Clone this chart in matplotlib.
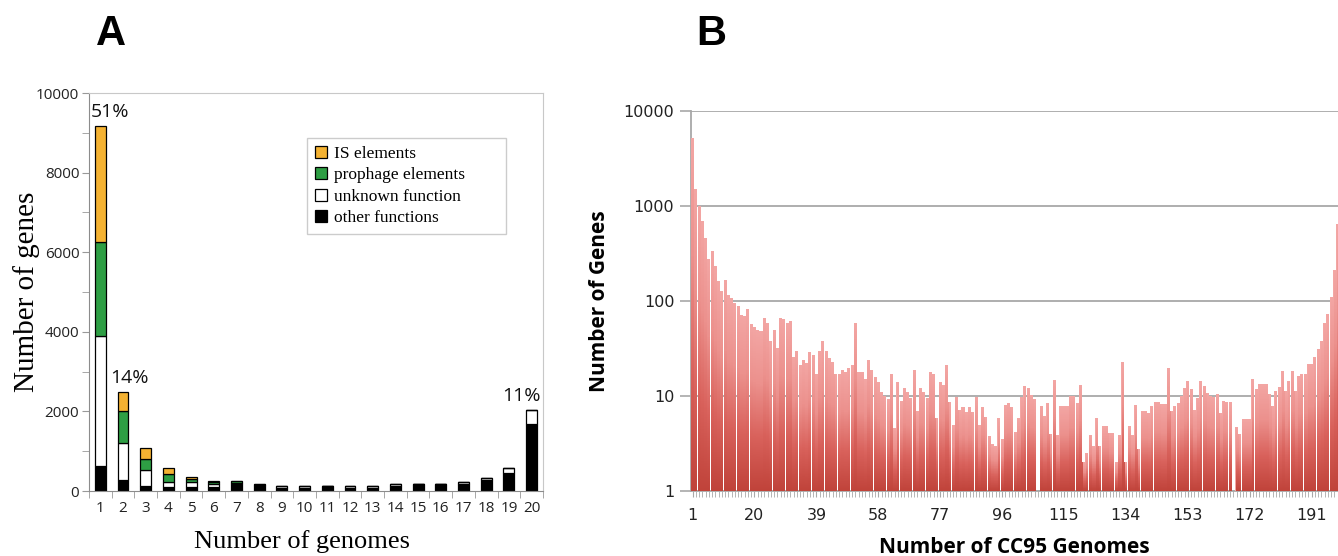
import numpy as np
import matplotlib
matplotlib.use('Agg')
import matplotlib.pyplot as plt
from matplotlib.patches import Patch
from matplotlib.path import Path
from matplotlib.colors import LinearSegmentedColormap
from matplotlib.ticker import FixedLocator, MultipleLocator, NullLocator, FuncFormatter

# ---- panel A: genes per number of genomes (stacked by function) ----
genomes_a = np.arange(1, 21)
other_functions = [640, 277, 136, 110, 105, 105, 185, 120, 80, 85, 125, 75, 85, 125, 168, 168, 180, 270, 460, 1672]
unknown_function = [3259, 922, 392, 126, 109, 70, 15, 40, 45, 45, 13, 63, 53, 51, 8, 8, 42, 61, 123, 360]
prophage_elements = [2348, 822, 277, 184, 83, 40, 50, 10, 8, 8, 0, 0, 0, 0, 0, 0, 0, 0, 0, 0]
is_elements = [2932, 478, 269, 151, 59, 41, 6, 6, 5, 0, 0, 0, 0, 0, 0, 0, 0, 0, 0, 0]
pct_labels = ['51%', '14%', '11%']

# ---- panel B: genes per number of CC95 genomes ----
gene_counts = [
    5150, 1500, 1000, 695, 464, 275, 337, 234, 163, 127,
    166, 117, 108, 96, 89, 72, 70, 82, 57, 53,
    50, 48, 67, 59, 38, 50, 32, 67, 64, 59,
    62, 26, 30, 21, 24, 22, 29, 27, 17, 30,
    38, 30, 25, 23, 17, 17, 19, 18, 19.5, 21,
    59, 18, 18, 15, 24, 19, 16, 14, 11, 10,
    9.2, 17, 4.6, 14, 8.9, 12, 11, 9.6, 19, 7,
    12, 11, 9.6, 18, 17, 5.9, 14, 13, 21, 8.7,
    5.0, 9.8, 7.1, 7.7, 6.8, 7.7, 6.8, 9.8, 5.0, 7.7,
    6.0, 3.8, 3.1, 3.0, 5.8, 3.5, 8.0, 8.5, 7.7, 4.2,
    5.8, 9.8, 12.7, 12, 10.2, 9.4, 1, 7.9, 6.1, 8.5,
    4.0, 14.7, 3.9, 7.8, 7.8, 7.8, 10, 10, 8.5, 13,
    2.0, 2.5, 3.9, 2.95, 5.9, 2.95, 4.8, 4.8, 4.1, 4.1,
    2.0, 3.9, 23, 2.0, 4.8, 3.9, 8.0, 2.8, 6.9, 6.9,
    6.7, 7.8, 8.7, 8.7, 8.2, 8.2, 19.5, 6.9, 7.8, 8.5,
    10, 12.2, 14.4, 11.8, 7.2, 9.6, 14.4, 12.8, 10.8, 10,
    9.7, 10.5, 6.7, 8.9, 8.6, 8.6, 1, 4.7, 4.0, 5.7,
    5.7, 5.7, 15, 11.9, 13.4, 13.4, 13.4, 10.5, 7.9, 11.4,
    12.3, 18.5, 11.4, 14.5, 18.5, 11.4, 16.4, 17.1, 17.1, 21.8,
    21.8, 25.6, 31, 38, 58, 73, 110, 210, 650,
]
genomes_b = np.arange(1, len(gene_counts) + 1)
b_ticks = list(range(1, 200, 19))

fig = plt.figure(figsize=(13.38, 5.56), dpi=100)

# ================= panel A =================
axa = fig.add_axes([0.0665, 0.1169, 0.3393, 0.7158])
layers = [
    (other_functions, 'black', 'other functions'),
    (unknown_function, 'white', 'unknown function'),
    (prophage_elements, '#2e9e44', 'prophage elements'),
    (is_elements, '#f4b232', 'IS elements'),
]
bottom = np.zeros(len(genomes_a))
handles = []
for vals, col, lab in layers:
    vals = np.array(vals, dtype=float)
    axa.bar(genomes_a, vals, width=0.48, bottom=bottom, color=col,
            edgecolor='black', linewidth=0.9, zorder=2)
    bottom += vals
    handles.append(Patch(facecolor=col, edgecolor='black', linewidth=0.9, label=lab))

axa.set_xlim(0.5, 20.5)
axa.set_ylim(0, 10000)
axa.yaxis.set_major_locator(MultipleLocator(2000))
axa.yaxis.set_minor_locator(MultipleLocator(1000))
axa.set_xticks(genomes_a)
axa.set_xticklabels([str(g) for g in genomes_a])
axa.xaxis.set_minor_locator(FixedLocator(np.arange(0.5, 21, 1)))
axa.tick_params(axis='x', which='major', length=0, pad=7, labelsize=11)
axa.tick_params(axis='x', which='minor', length=5, color='#999999', direction='out')
axa.tick_params(axis='y', which='both', length=5, color='#999999', pad=2, labelsize=11)
for lbl in axa.get_xticklabels() + axa.get_yticklabels():
    lbl.set_fontfamily('Open Sans')
    lbl.set_color('#222222')
for side in ['left', 'bottom']:
    axa.spines[side].set_color('#8c8c8c')
for side in ['top', 'right']:
    axa.spines[side].set_color('#c8c8c8')

axa.set_ylabel('Number of genes', family='Liberation Serif', fontsize=21)
axa.yaxis.set_label_coords(40 / 1338, (556 - 292) / 556, transform=fig.transFigure)
axa.set_xlabel('Number of genomes', family='Liberation Serif', fontsize=19)
axa.xaxis.set_label_coords(302 / 1338, (556 - 530) / 556, transform=fig.transFigure)

pct_pos = [(0, 'left', 0.6), (1, 'left', 1.45), (19, 'right', 20.38)]
tops_a = bottom
for (i, ha, xpos), txt in zip(pct_pos, pct_labels):
    axa.text(xpos, tops_a[i] + 120, txt, ha=ha, va='bottom', family='Open Sans',
             fontsize=14, color='#111111')

leg = axa.legend(handles=handles[::-1], loc='upper left', mode='expand',
                 bbox_to_anchor=(307 / 1338, 1 - 229 / 556, 199 / 1338, 91 / 556),
                 bbox_transform=fig.transFigure,
                 prop={'family': 'Liberation Serif', 'size': 12.5}, frameon=True, fancybox=False,
                 handlelength=0.7, handleheight=0.7, handletextpad=0.4, labelspacing=0.3,
                 borderpad=0.45, borderaxespad=0)
leg.get_frame().set_edgecolor('#c0c0c0')
leg.get_frame().set_linewidth(1.0)

# ================= panel B =================
axb = fig.add_axes([0.5164, 0.1169, 0.4836, 0.6835])
axb.set_yscale('log')
axb.set_ylim(1, 10000)
axb.set_xlim(0.5, 199.1)
axb.set_axisbelow(True)

counts = np.array(gene_counts, dtype=float)
bars = axb.bar(genomes_b, counts - 1, bottom=1, width=0.93, color='#e27c77',
               linewidth=0, zorder=2)

# per-bar vertical gradient (dark red at base -> light pink at top)
to_axes = axb.transData + axb.transAxes.inverted()
tops = to_axes.transform(np.column_stack([genomes_b, counts]))[:, 1]
x0f = to_axes.transform([[0.5, 1]])[0, 0]
x1f = to_axes.transform([[len(counts) + 0.5, 1]])[0, 0]
rows = 600
frac = (np.arange(rows) + 0.5) / rows
grad = np.clip(frac[:, None] / np.maximum(tops[None, :], 1e-6), 0, 1)
cmap = LinearSegmentedColormap.from_list('bars', ['#c0433a', '#d9625c', '#ec918d', '#f3a6a4'])
im = axb.imshow(grad, cmap=cmap, vmin=0, vmax=1, origin='lower', aspect='auto',
                interpolation='nearest', extent=[x0f, x1f, 0, 1],
                transform=axb.transAxes, zorder=3)
clip = Path.make_compound_path(*[p.get_path().transformed(p.get_patch_transform())
                                 for p in bars.patches])
im.set_clip_path(clip, axb.transData)
axb.set_xlim(0.5, 199.1)
axb.set_ylim(1, 10000)

axb.yaxis.set_major_locator(FixedLocator([1, 10, 100, 1000, 10000]))
axb.yaxis.set_minor_locator(NullLocator())
axb.yaxis.set_major_formatter(FuncFormatter(lambda v, p: f'{v:g}'))
axb.yaxis.grid(True, color='#a8a8a8', linewidth=1.3)
axb.set_xticks(b_ticks)
axb.xaxis.set_minor_locator(FixedLocator(genomes_b))
axb.tick_params(axis='y', length=8, color='#a8a8a8', width=1.2, pad=4, labelsize=11.5)
axb.tick_params(axis='x', which='major', length=4, color='#a8a8a8', pad=8, labelsize=11.5)
axb.tick_params(axis='x', which='minor', length=4, color='#a8a8a8', width=0.6)
for lbl in axb.get_xticklabels() + axb.get_yticklabels():
    lbl.set_fontfamily('DejaVu Sans')
    lbl.set_color('#222222')
for side in ['top', 'right']:
    axb.spines[side].set_visible(False)
for side in ['left', 'bottom']:
    axb.spines[side].set_color('#a8a8a8')
    axb.spines[side].set_linewidth(1.3)

axb.set_ylabel('Number of Genes', family='Open Sans', fontweight='bold', fontsize=15, labelpad=10)
axb.set_xlabel('Number of CC95 Genomes', family='Open Sans', fontweight='bold', fontsize=15, labelpad=10)

# panel letters
fig.text(111 / 1338, 1 - 34 / 556, 'A', family='Liberation Sans', fontweight='bold',
         fontsize=30, ha='center', va='center')
fig.text(711 / 1338, 1 - 34 / 556, 'B', family='Liberation Sans', fontweight='bold',
         fontsize=30, ha='center', va='center')

fig.savefig('out.png', dpi=100)
